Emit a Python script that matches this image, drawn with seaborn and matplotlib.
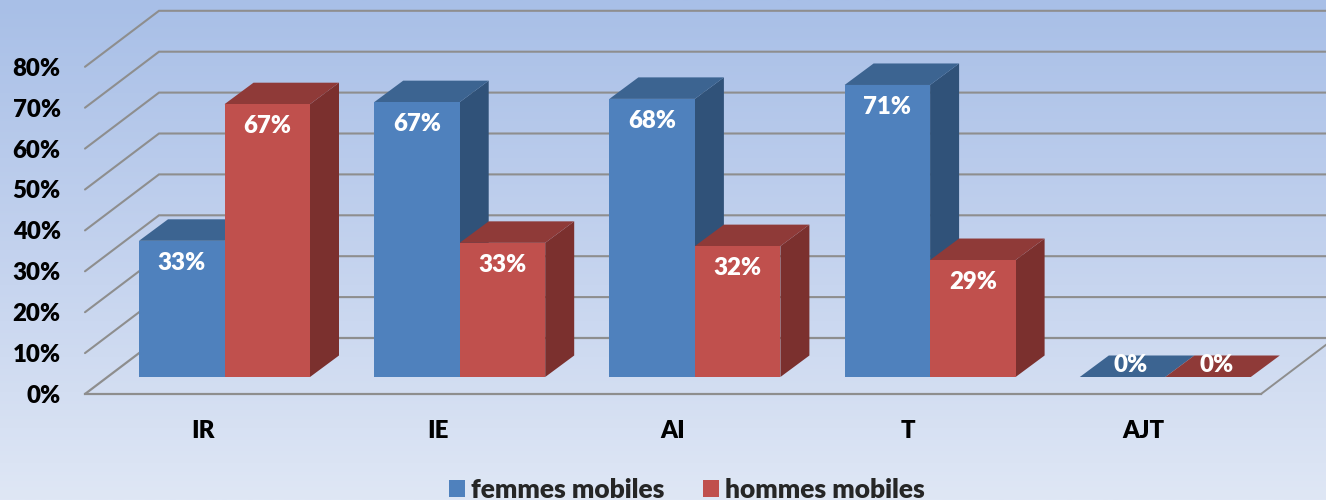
import numpy as np
import pandas as pd
import matplotlib
matplotlib.use('Agg')
import matplotlib.pyplot as plt
from matplotlib.colors import LinearSegmentedColormap
from matplotlib.patches import Polygon
import seaborn as sns

categories = ['IR', 'IE', 'AI', 'T', 'AJT']
femmes = [33.3, 67.2, 68, 71.4, 0]
hommes = [66.7, 32.8, 32, 28.6, 0]
y_ticks = [0, 10, 20, 30, 40, 50, 60, 70, 80]
series = ['femmes mobiles', 'hommes mobiles']

W, H = 1326, 500
GROUP_PX = 235.2       # pixels per category
PCT_PX = 4.09          # pixels per percent
WALL_DX, WALL_DY = 74, 56   # chart floor depth
BAR_DX, BAR_DY = 29, 21.5   # bar depth
WEIGHT = 'heavy'

colors = {'femmes mobiles': '#4f81bd', 'hommes mobiles': '#c0504d'}
top_colors = {'femmes mobiles': '#3c6491', 'hommes mobiles': '#8f3a38'}
side_colors = {'femmes mobiles': '#305279', 'hommes mobiles': '#7b302e'}
GRID = '#8e8e8e'

sns.set_theme(style='white')
plt.rcParams['font.family'] = ['Lato', 'DejaVu Sans']
plt.rcParams['font.weight'] = WEIGHT

df = pd.DataFrame({
    'classe': categories * 2,
    'part': femmes + hommes,
    'sexe': [series[0]] * len(categories) + [series[1]] * len(categories),
})

fig = plt.figure(figsize=(W / 100, H / 100), dpi=100)

# background gradient
bg = fig.add_axes([0, 0, 1, 1], zorder=0)
cmap = LinearSegmentedColormap.from_list('bg', ['#a8bfe7', '#c3d2ee', '#dfe7f5'])
bg.imshow(np.linspace(0, 1, 256).reshape(-1, 1), aspect='auto', cmap=cmap)
bg.axis('off')

# front plane: tick labels, floor edge and wall lines
front = fig.add_axes([85 / W, (H - 394) / H, 5 * GROUP_PX / W, 80 * PCT_PX / H], zorder=1)
front.patch.set_alpha(0)
front.set_xlim(-0.5, 4.5)
front.set_ylim(0, 80)
front.set_xticks(range(len(categories)))
front.set_xticklabels(categories)
front.set_yticks(y_ticks)
front.set_yticklabels([f'{v}%' for v in y_ticks])
front.tick_params(axis='both', length=0, labelsize=17.3, labelcolor='black')
front.tick_params(axis='x', pad=19)
front.tick_params(axis='y', pad=17.5)
sns.despine(ax=front, left=True)
front.spines['bottom'].set_color(GRID)
front.spines['bottom'].set_linewidth(1.6)

ddx = WALL_DX / GROUP_PX
ddy = WALL_DY / PCT_PX
right_end = 6.0
for v in y_ticks:
    front.plot([-0.5, -0.5 + ddx, right_end], [v, v + ddy, v + ddy],
               color=GRID, lw=1.5 if v else 1.6, clip_on=False, solid_joinstyle='miter')
front.plot([4.5, 4.5 + ddx], [0, ddy], color=GRID, lw=1.4, clip_on=False)

# bar plane, shifted back from the front plane
ax = fig.add_axes([0, 0, 1, 1], zorder=2)
ax.patch.set_alpha(0)
sns.barplot(data=df, x='classe', y='part', hue='sexe', palette=colors, saturation=1,
            width=171 / GROUP_PX, gap=0, dodge=True, linewidth=0, ax=ax)
ax.set_xlim(-224.5 / GROUP_PX, (W - 224.5) / GROUP_PX)
ax.set_ylim(-(H - 377) / PCT_PX, 377 / PCT_PX)

bdx = BAR_DX / GROUP_PX
bdy = BAR_DY / PCT_PX
for k, (name, cont) in enumerate(zip(series, ax.containers)):
    for bar, val in zip(cont.patches, cont.datavalues):
        x0, x1 = bar.get_x(), bar.get_x() + bar.get_width()
        bar.set_zorder(6)
        top = [(x0, val), (x1, val), (x1 + bdx, val + bdy), (x0 + bdx, val + bdy)]
        side = [(x1, 0), (x1 + bdx, bdy), (x1 + bdx, val + bdy), (x1, val)]
        ax.add_patch(Polygon(side, fc=side_colors[name], lw=0, zorder=2 + k))
        ax.add_patch(Polygon(top, fc=top_colors[name], lw=0, zorder=2 + k))
        offset = (0, -16) if val > 0 else (6, 8.5)
        ax.annotate(f'{val:.0f}%', (x0 + bar.get_width() / 2, val), xytext=offset,
                    textcoords='offset points', ha='center', va='center',
                    color='white', fontsize=17.3, fontweight=WEIGHT, zorder=8)

handles, labels = ax.get_legend_handles_labels()
ax.legend(handles, labels, loc='center', bbox_to_anchor=(687 / W, 10 / H),
          bbox_transform=fig.transFigure, ncol=2, frameon=False, fontsize=19,
          handlelength=0.6, handleheight=0.6, handletextpad=0.25, columnspacing=1.45,
          borderpad=0, title=None)
ax.axis('off')

plt.savefig('out.png', dpi=100)
plt.close()
